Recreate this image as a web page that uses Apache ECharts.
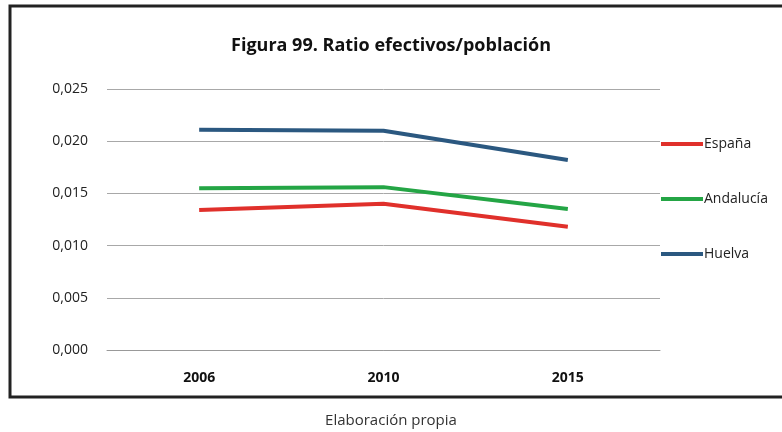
<!DOCTYPE html>
<html lang="es">
<head>
<meta charset="utf-8">
<title>Figura 99</title>
<script src="https://cdn.jsdelivr.net/npm/echarts@6/dist/echarts.min.js"></script>
<style>
  html, body, #main { width: 100%; height: 100%; margin: 0; padding: 0; background: #fff; }
</style>
</head>
<body>
<div id="main"></div>
<script>
var years = ['2006', '2010', '2015'];
var espana = [0.0134, 0.0140, 0.0118];
var andalucia = [0.0155, 0.0156, 0.0135];
var huelva = [0.0211, 0.0210, 0.0182];

var chart = echarts.init(document.getElementById('main'));

function serie(name, data, color) {
    return {
        name: name,
        type: 'line',
        data: data,
        symbol: 'none',
        smooth: false,
        lineStyle: { color: color, width: 4 },
        itemStyle: { color: color }
    };
}

chart.setOption({
    animation: false,
    title: [{
        text: 'Figura 99. Ratio efectivos/población',
        left: 'center',
        top: 32,
        textStyle: { fontFamily: 'Open Sans', fontSize: 18, fontWeight: 'bold', color: '#111' }
    }, {
        text: 'Elaboración propia',
        left: 'center',
        top: 408,
        textStyle: { fontFamily: 'Open Sans', fontSize: 15, fontWeight: 'normal', color: '#333' }
    }],
    graphic: [{
        type: 'rect',
        shape: { x: 10, y: 6, width: 800, height: 391 },
        style: { fill: 'none', stroke: '#222', lineWidth: 3 }
    }],
    legend: {
        orient: 'vertical',
        left: 656,
        top: 132,
        itemGap: 41,
        itemWidth: 42,
        itemHeight: 4,
        icon: 'rect',
        textStyle: { fontFamily: 'Open Sans', fontSize: 14, color: '#222', padding: [0, 0, 0, -4] },
        data: ['España', 'Andalucía', 'Huelva']
    },
    grid: { left: 107, right: 122, top: 89, bottom: 82 },
    xAxis: {
        type: 'category',
        data: years,
        boundaryGap: true,
        axisTick: { show: false },
        axisLine: { lineStyle: { color: '#999' } },
        axisLabel: { margin: 21, fontFamily: 'Open Sans', fontSize: 14, fontWeight: 'bold', color: '#111' }
    },
    yAxis: {
        type: 'value',
        min: 0,
        max: 0.025,
        interval: 0.005,
        axisLine: { show: false },
        axisTick: { show: false },
        splitLine: { lineStyle: { color: '#a8a8a8', width: 1 } },
        axisLabel: {
            margin: 19,
            fontFamily: 'Open Sans',
            fontSize: 14,
            color: '#222',
            formatter: function (v) { return v.toFixed(3).replace('.', ','); }
        }
    },
    series: [
        serie('España', espana, '#e0302b'),
        serie('Andalucía', andalucia, '#24a545'),
        serie('Huelva', huelva, '#2b5880')
    ]
});
</script>
</body>
</html>
